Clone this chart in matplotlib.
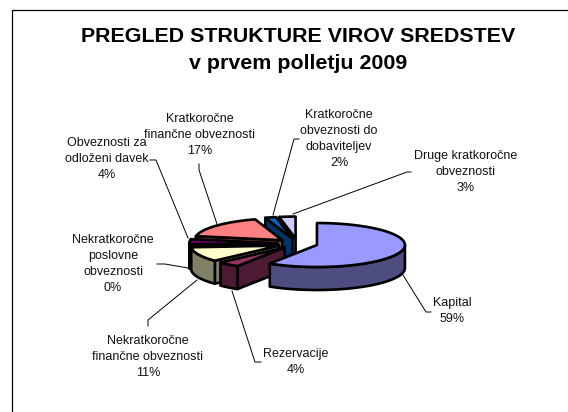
import numpy as np
import matplotlib
matplotlib.use("Agg")
import matplotlib.pyplot as plt
from matplotlib.patches import Polygon

plt.rcParams['font.family'] = ['Liberation Sans', 'DejaVu Sans']

title = "PREGLED STRUKTURE VIROV SREDSTEV\nv prvem polletju 2009"

names = ["Kapital", "Rezervacije", "Nekratkoročne\nfinančne obveznosti",
         "Nekratkoročne\nposlovne\nobveznosti", "Obveznosti za\nodloženi davek",
         "Kratkoročne\nfinančne obveznosti", "Kratkoročne\nobveznosti do\ndobaviteljev",
         "Druge kratkoročne\nobveznosti"]
values = [59, 4, 10.8, 0.4, 3.8, 17, 2, 3]
top_colors = ["#9999FF", "#993366", "#FFFFCC", "#CCFFFF", "#660066", "#FF8080", "#0066CC", "#CCCCFF"]
side_colors = ["#4D4D80", "#4D1A33", "#808066", "#666680", "#330033", "#804040", "#003366", "#666680"]

# pixel layout of the labels and their leader lines
label_xy = [(452, 311), (296, 362), (148, 357), (113, 264), (107, 159), (200, 135), (339, 139), (466, 172)]
leaders = [
    [(403, 275), (426, 312), (431, 312)],
    [(232, 291), (255, 362), (261, 362)],
    [(197, 280), (148, 320), (148, 326)],
    [(188, 268), (165, 264), (157, 264)],
    [(188, 238), (156, 160), (150, 160)],
    [(217, 224), (199, 170), (199, 164)],
    [(273, 215), (294, 139), (299, 139)],
    [(293, 214), (407, 172), (411, 172)],
]

cx, cy = 297.5, 243.6
rx, ry = 88, 22
depth = 23
explode = 0.23
edge = 1.9

fig = plt.figure(figsize=(5.68, 4.12), dpi=100)
ax = fig.add_axes([0, 0, 1, 1])
ax.set_xlim(0, 568)
ax.set_ylim(412, 0)
ax.axis("off")

# frame, only left and top are visible
ax.plot([12, 12, 568], [412, 9.5, 9.5], color="black", lw=0.9, solid_capstyle="butt")

ax.text(298, 50, title, ha="center", va="center", fontsize=15.4, fontweight="bold", linespacing=1.55)


def point(c, ang, d=0):
    return (c[0] + rx * np.cos(ang), c[1] - ry * np.sin(ang) + d)


def draw_wedge(a0, a1, top, side):
    # a0 > a1, going clockwise
    mid = (a0 + a1) / 2
    c = (cx + explode * rx * np.cos(mid), cy - explode * ry * np.sin(mid))
    arc = np.linspace(a0, a1, 120)
    # cut faces
    if np.sin(a0 + np.pi / 2) < 0:
        p = point(c, a0)
        ax.add_patch(Polygon([c, p, (p[0], p[1] + depth), (c[0], c[1] + depth)],
                             fc=side, ec="black", lw=edge, joinstyle="round"))
    if np.sin(a1 - np.pi / 2) < 0:
        p = point(c, a1)
        ax.add_patch(Polygon([c, p, (p[0], p[1] + depth), (c[0], c[1] + depth)],
                             fc=side, ec="black", lw=edge, joinstyle="round"))
    # outer wall, front part only
    front = arc[np.sin(arc) < 0]
    if len(front) > 1:
        upper = [point(c, a) for a in front]
        lower = [point(c, a, depth) for a in front[::-1]]
        ax.add_patch(Polygon(upper + lower, fc=side, ec="black", lw=edge, joinstyle="round"))
    pts = [c] + [point(c, a) for a in arc]
    ax.add_patch(Polygon(pts, fc=top, ec="black", lw=edge, joinstyle="round"))


total = sum(values)
angles = np.pi / 2 - 2 * np.pi * np.cumsum([0] + values) / total

for i in range(len(values) - 1, -1, -1):
    draw_wedge(angles[i], angles[i + 1], top_colors[i], side_colors[i])

for i, name in enumerate(names):
    xs = [p[0] for p in leaders[i]]
    ys = [p[1] for p in leaders[i]]
    ax.plot(xs, ys, color="black", lw=0.7)
    pct = round(values[i] / total * 100)
    ax.text(label_xy[i][0], label_xy[i][1], f"{name}\n{pct}%", ha="center", va="center",
            fontsize=9, color="#111111", linespacing=1.42)

fig.savefig("out.png", dpi=100)
